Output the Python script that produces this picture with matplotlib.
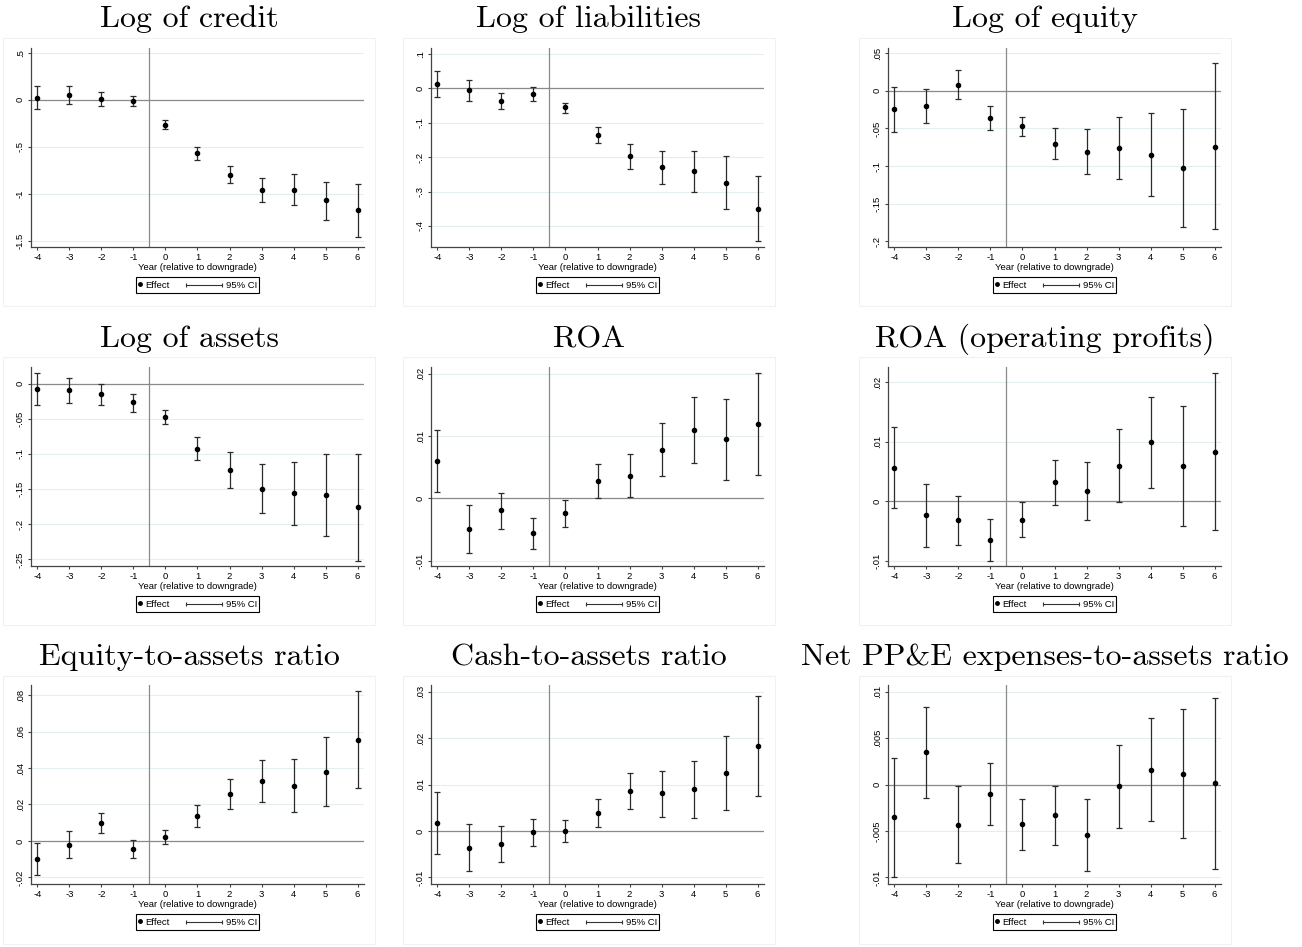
import numpy as np
import matplotlib
matplotlib.use('Agg')
import matplotlib.pyplot as plt
from matplotlib.lines import Line2D
from matplotlib.patches import Rectangle
from matplotlib.legend_handler import HandlerBase, HandlerLine2D

plt.rcParams['font.family'] = ['Liberation Sans', 'DejaVu Sans']

# ---------------------------------------------------------
# Event-study estimates (point, 95% CI)
# ---------------------------------------------------------
years = [-4, -3, -2, -1, 0, 1, 2, 3, 4, 5, 6]

titles = ['Log of credit', 'Log of liabilities', 'Log of equity',
          'Log of assets', 'ROA', 'ROA (operating profits)',
          'Equity-to-assets ratio', 'Cash-to-assets ratio',
          'Net PP&E expenses-to-assets ratio']

credit_b = [0.025, 0.05, 0.011, -0.007, -0.263, -0.569, -0.797, -0.957, -0.957, -1.064, -1.174]
credit_lo = [-0.10, -0.046, -0.064, -0.068, -0.306, -0.637, -0.89, -1.082, -1.117, -1.281, -1.456]
credit_hi = [0.15, 0.15, 0.082, 0.046, -0.217, -0.502, -0.701, -0.829, -0.794, -0.879, -0.893]

liab_b = [0.0117, -0.006, -0.036, -0.0165, -0.056, -0.135, -0.198, -0.230, -0.241, -0.274, -0.350]
liab_lo = [-0.026, -0.037, -0.060, -0.036, -0.073, -0.160, -0.234, -0.279, -0.301, -0.350, -0.444]
liab_hi = [0.0485, 0.024, -0.0146, 0.002, -0.042, -0.112, -0.163, -0.1835, -0.181, -0.198, -0.256]

equity_b = [-0.0244, -0.020, 0.008, -0.036, -0.0471, -0.0707, -0.0813, -0.076, -0.0849, -0.1027, -0.0742]
equity_lo = [-0.0542, -0.0427, -0.0107, -0.052, -0.0596, -0.0911, -0.111, -0.1173, -0.1404, -0.1804, -0.184]
equity_hi = [0.0049, 0.0022, 0.0271, -0.020, -0.0342, -0.0498, -0.0502, -0.0351, -0.0298, -0.0244, 0.0364]

assets_b = [-0.0077, -0.0096, -0.0153, -0.0267, -0.0471, -0.0924, -0.123, -0.150, -0.156, -0.159, -0.176]
assets_lo = [-0.031, -0.027, -0.030, -0.0396, -0.0567, -0.109, -0.1486, -0.184, -0.201, -0.217, -0.252]
assets_hi = [0.0151, 0.0086, 0.0, -0.0148, -0.0371, -0.0752, -0.0976, -0.115, -0.111, -0.100, -0.100]

roa_b = [0.0060, -0.00493, -0.00193, -0.00558, -0.00241, 0.00273, 0.00365, 0.00783, 0.0110, 0.00949, 0.0119]
roa_lo = [0.00102, -0.0088, -0.00483, -0.0081, -0.0045, 0.0, 0.00016, 0.00359, 0.00574, 0.0030, 0.0037]
roa_hi = [0.01094, -0.00113, 0.00086, -0.00306, -0.00032, 0.00547, 0.00708, 0.01206, 0.0163, 0.0160, 0.0201]

roaop_b = [0.00563, -0.00242, -0.00321, -0.00647, -0.0031, 0.00315, 0.00169, 0.00597, 0.0099, 0.00597, 0.00833]
roaop_lo = [-0.00124, -0.00771, -0.00737, -0.01002, -0.00602, -0.00068, -0.00321, -0.00017, 0.00219, -0.00411, -0.0049]
roaop_hi = [0.0125, 0.00287, 0.0009, -0.00293, -0.00023, 0.00692, 0.00664, 0.0121, 0.01756, 0.0160, 0.02155]

eqta_b = [-0.0098, -0.0022, 0.0098, -0.0044, 0.0022, 0.0138, 0.0256, 0.0329, 0.0302, 0.038, 0.0555]
eqta_lo = [-0.0189, -0.0096, 0.0042, -0.0093, -0.0018, 0.0078, 0.0173, 0.0216, 0.0158, 0.0191, 0.0291]
eqta_hi = [-0.0009, 0.0053, 0.0155, 0.0004, 0.0058, 0.0198, 0.0338, 0.0442, 0.0447, 0.0569, 0.082]

cash_b = [0.00179, -0.00357, -0.00271, -0.00029, 0.0, 0.00386, 0.00857, 0.00807, 0.009, 0.0125, 0.01836]
cash_lo = [-0.005, -0.00871, -0.00657, -0.00314, -0.00229, 0.00079, 0.00464, 0.00307, 0.00279, 0.00457, 0.00757]
cash_hi = [0.00843, 0.00157, 0.001, 0.00257, 0.00236, 0.00686, 0.01257, 0.013, 0.01514, 0.0204, 0.02914]

ppe_b = [-0.00354, 0.00346, -0.00436, -0.001, -0.00429, -0.00332, -0.00543, -0.00018, 0.00161, 0.00118, 0.00011]
ppe_lo = [-0.00993, -0.0015, -0.0085, -0.00432, -0.00704, -0.00654, -0.00929, -0.00464, -0.00389, -0.00579, -0.00911]
ppe_hi = [0.00286, 0.00839, -0.00014, 0.00229, -0.00157, -0.00014, -0.00157, 0.00421, 0.00711, 0.00818, 0.00936]

estimates = [(credit_b, credit_lo, credit_hi), (liab_b, liab_lo, liab_hi),
             (equity_b, equity_lo, equity_hi), (assets_b, assets_lo, assets_hi),
             (roa_b, roa_lo, roa_hi), (roaop_b, roaop_lo, roaop_hi),
             (eqta_b, eqta_lo, eqta_hi), (cash_b, cash_lo, cash_hi),
             (ppe_b, ppe_lo, ppe_hi)]

yticks = [[0.5, 0, -0.5, -1, -1.5],
          [0.1, 0, -0.1, -0.2, -0.3, -0.4],
          [0.05, 0, -0.05, -0.1, -0.15, -0.2],
          [0, -0.05, -0.1, -0.15, -0.2, -0.25],
          [0.02, 0.01, 0, -0.01],
          [0.02, 0.01, 0, -0.01],
          [0.08, 0.06, 0.04, 0.02, 0, -0.02],
          [0.03, 0.02, 0.01, 0, -0.01],
          [0.01, 0.005, 0, -0.005, -0.01]]

ylims = [(-1.566, 0.552), (-0.461, 0.1165), (-0.2076, 0.0569),
         (-0.2595, 0.0238), (-0.01083, 0.02107), (-0.01092, 0.02257),
         (-0.0236, 0.0855), (-0.0114, 0.0314), (-0.01071, 0.01071)]


def stata_fmt(v):
    # Stata drops the leading zero: 0.5 -> .5, -0.05 -> -.05
    if v == 0:
        return '0'
    s = f'{v:g}'
    return s.replace('0.', '.', 1)


class CIHandler(HandlerBase):
    # capped horizontal line, drawn wider than the (tiny) handle box
    def create_artists(self, legend, orig_handle, xdescent, ydescent,
                       width, height, fontsize, trans):
        y = height / 2 - ydescent
        x1 = width - xdescent
        x0 = x1 - 3.9 * fontsize
        bar = Line2D([x0, x1], [y, y], color='#333333', lw=0.8, transform=trans)
        caps = Line2D([x0, x1], [y, y], ls='none', marker='|', ms=3.5,
                      mew=0.8, color='#333333', transform=trans)
        return [bar, caps]


W, H = 1302, 947
fig = plt.figure(figsize=(W / 100, H / 100), dpi=100)

ax_left = [31, 431, 888]
ax_top = [48, 367, 685]
ax_w, ax_h = 333, 199
frame_left = [3, 403, 859]
frame_top = [38, 357, 676]
frame_w, frame_h = 372, 268
title_base = [27, 347, 665]

for i in range(9):
    r, c = divmod(i, 3)
    b, lo, hi = [np.array(a) for a in estimates[i]]

    # faint border around each graph region, like the exported Stata graphs
    fig.patches.append(Rectangle((frame_left[c] / W, 1 - (frame_top[r] + frame_h) / H),
                                 frame_w / W, frame_h / H, transform=fig.transFigure,
                                 fill=False, edgecolor='#f1f1f1', lw=0.8))
    fig.text((frame_left[c] + frame_w / 2) / W, 1 - title_base[r] / H, titles[i],
             family='cmr10', fontsize=23, ha='center', va='baseline')

    ax = fig.add_axes([ax_left[c] / W, 1 - (ax_top[r] + ax_h) / H, ax_w / W, ax_h / H])
    ax.yaxis.grid(True, color='#e4eef0', lw=0.8)
    ax.set_axisbelow(True)
    ax.axhline(0, color='#8a8a8a', lw=0.9, zorder=1)
    ax.axvline(-0.5, color='#8a8a8a', lw=0.9, zorder=1)

    ax.errorbar(years, b, yerr=[b - lo, hi - b], fmt='none', ecolor='#2b2b2b',
                elinewidth=0.9, capsize=2.2, capthick=0.9, zorder=2)
    ax.plot(years, b, 'o', color='black', ms=3, zorder=3)

    ax.set_xlim(-4.2, 6.2)
    ax.set_ylim(*ylims[i])
    ax.set_xticks(years)
    ax.set_xticklabels([str(y) for y in years])
    ax.set_yticks(yticks[i])
    ax.set_yticklabels([stata_fmt(v) for v in yticks[i]], rotation=90, va='center')
    ax.tick_params(labelsize=6.8, length=2.5, width=0.8, color='#444444', pad=1.5)
    ax.tick_params(axis='y', pad=2)
    for side in ['top', 'right']:
        ax.spines[side].set_visible(False)
    for side in ['left', 'bottom']:
        ax.spines[side].set_color('#444444')
        ax.spines[side].set_linewidth(0.9)
    ax.set_xlabel('Year (relative to downgrade)', fontsize=6.8, labelpad=1)

    effect = Line2D([], [], ls='none', marker='o', ms=2.5, color='black')
    ci = Line2D([], [], color='#333333')
    leg = ax.legend([effect, ci], ['Effect', '95% CI'], ncol=2, loc='upper center',
                    bbox_to_anchor=(0.5, -0.151), fontsize=6.8, frameon=True,
                    fancybox=False, edgecolor='black', framealpha=1,
                    borderpad=0.25, handlelength=0.4, handleheight=1.4,
                    handletextpad=0.35, columnspacing=5.2, borderaxespad=0,
                    handler_map={effect: HandlerLine2D(numpoints=1), ci: CIHandler()})
    leg.get_frame().set_linewidth(0.8)

fig.savefig('out.png', dpi=100, facecolor='white')
